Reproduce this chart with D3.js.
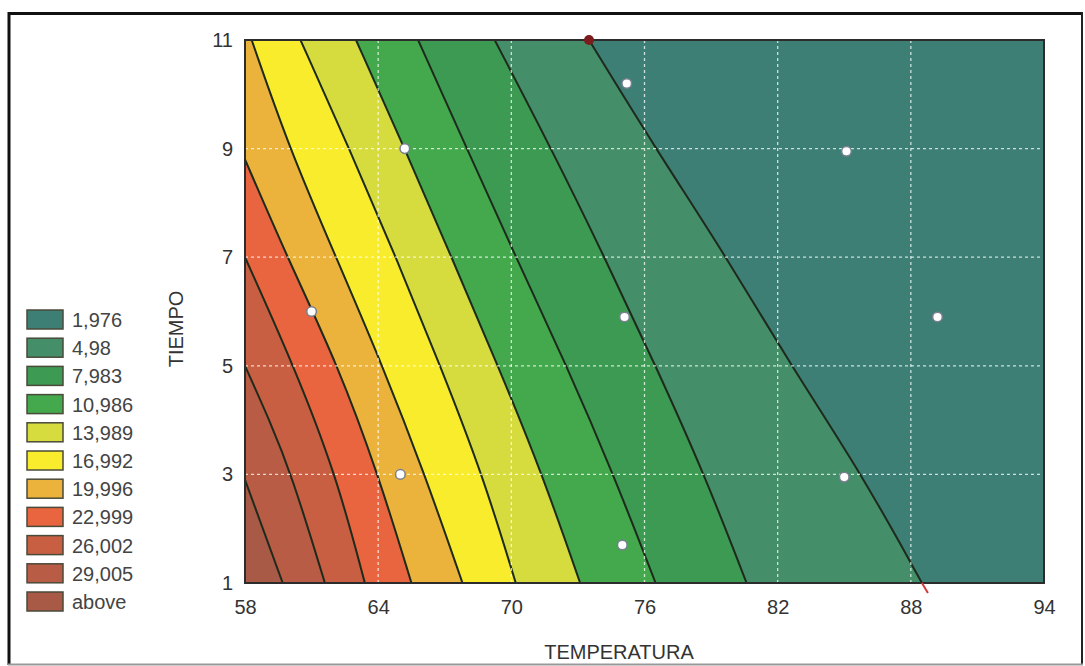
<!DOCTYPE html>
<html><head><meta charset="utf-8">
<script src="https://cdn.jsdelivr.net/npm/d3@7"></script>
<style>
html,body{margin:0;padding:0;background:#fff;}
svg{display:block;font-family:"Liberation Sans",Arial,sans-serif;}
</style></head>
<body>
<svg id="chart" width="1085" height="666"></svg>
<script>
// ---- data ----
const tempTicks = [58, 64, 70, 76, 82, 88, 94];
const timeTicks = [1, 3, 5, 7, 9, 11];
const legendLabels = ["1,976","4,98","7,983","10,986","13,989","16,992","19,996","22,999","26,002","29,005","above"];
const bandColors = ["#3e7f75","#448e69","#3d9a53","#44a84d","#d6dc3e","#f8ec2c","#ecb33c","#e8653f","#c85f42","#b85c45","#a95a46"];

// contour lines (TEMPERATURA, TIEMPO), right to left
const contour1976  = [[73.5,11],[76.5,9],[79.7,7],[82.6,5],[85.8,3],[88.5,1]];
const contour4980  = [[69.25,11],[71.8,9],[74.2,7],[76.5,5],[78.7,3],[80.6,1]];
const contour7983  = [[65.8,11],[68.0,9],[70.2,7],[72.5,5],[74.6,3],[76.5,1]];
const contour10986 = [[63.0,11],[65.2,9],[67.3,7],[69.4,5],[71.4,3],[73.1,1]];
const contour13989 = [[60.5,11],[62.7,9],[64.8,7],[66.8,5],[68.7,3],[70.2,1]];
const contour16992 = [[58.3,11],[60.0,9],[62.1,7],[64.2,5],[66.1,3],[67.8,1]];
const contour19996 = [[58,8.8],[59.9,7],[62.2,5],[64.0,3],[65.5,1]];
const contour22999 = [[58,7.0],[60.2,5],[62.1,3],[63.4,1]];
const contour26002 = [[58,5.0],[59.1,4],[60.1,3],[61.6,1]];
const contour29005 = [[58,2.9],[59.7,1]];
const contours = [contour1976, contour4980, contour7983, contour10986, contour13989,
                  contour16992, contour19996, contour22999, contour26002, contour29005];

// experimental points
const pointTemp = [65.2, 61.0, 65.0, 75.2, 75.1, 75.0, 85.1, 89.2, 85.0];
const pointTime = [9.0, 6.0, 3.0, 10.2, 5.9, 1.7, 8.95, 5.9, 2.95];

// ---- layout ----
const svg = d3.select("#chart");
const x = d3.scaleLinear().domain([58, 94]).range([245, 1044]);
const y = d3.scaleLinear().domain([1, 11]).range([583, 40]);
const [x0, x1] = x.range(), [y0, y1] = [y(11), y(1)];

// outer frame
svg.append("line").attr("x1",8).attr("x2",1082).attr("y1",13.5).attr("y2",13.5).attr("stroke","#111").attr("stroke-width",3);
svg.append("line").attr("x1",9).attr("x2",9).attr("y1",12).attr("y2",665).attr("stroke","#111").attr("stroke-width",3);
svg.append("line").attr("x1",1082).attr("x2",1082).attr("y1",12).attr("y2",665).attr("stroke","#222").attr("stroke-width",2);
svg.append("line").attr("x1",8).attr("x2",1083).attr("y1",664.5).attr("y2",664.5).attr("stroke","#999").attr("stroke-width",2);

svg.append("defs").append("clipPath").attr("id","plotclip")
  .append("rect").attr("x",x0).attr("y",y0).attr("width",x1-x0).attr("height",y1-y0);

const plot = svg.append("g").attr("clip-path","url(#plotclip)");
plot.append("rect").attr("x",x0).attr("y",y0).attr("width",x1-x0).attr("height",y1-y0)
  .attr("fill", bandColors[10]);

const lineGen = d3.line().x(d => x(d[0])).y(d => y(d[1])).curve(d3.curveBasis);

// bands: fill region right of each contour, from leftmost to rightmost
for (let i = contours.length - 1; i >= 0; i--) {
  const c = contours[i];
  const corners = [[94,1],[94,11],[58,11]];
  let p = lineGen(c);
  corners.forEach(k => { p += "L" + x(k[0]) + "," + y(k[1]); });
  p += "Z";
  plot.append("path").attr("d", p).attr("fill", bandColors[i]);
}

// grid
const grid = svg.append("g");
tempTicks.slice(1, -1).forEach(t => {
  grid.append("line").attr("x1",x(t)).attr("x2",x(t)).attr("y1",y0).attr("y2",y1)
    .attr("stroke","rgba(255,255,255,0.75)").attr("stroke-width",1.3).attr("stroke-dasharray","3,3");
});
timeTicks.slice(1, -1).forEach(t => {
  grid.append("line").attr("x1",x0).attr("x2",x1).attr("y1",y(t)).attr("y2",y(t))
    .attr("stroke","rgba(255,255,255,0.75)").attr("stroke-width",1.3).attr("stroke-dasharray","3,3");
});

// contour lines
contours.forEach(c => {
  plot.append("path").attr("d", lineGen(c)).attr("fill","none")
    .attr("stroke","#1d2a1c").attr("stroke-width",2);
});

// plot border
svg.append("rect").attr("x",x0).attr("y",y0).attr("width",x1-x0).attr("height",y1-y0)
  .attr("fill","none").attr("stroke","#2c2c2c").attr("stroke-width",2);

// red markers at contour ends
svg.append("circle").attr("cx",x(contour1976[0][0])).attr("cy",y(contour1976[0][1])).attr("r",5)
  .attr("fill","#7d1c1c");
const lastA = contour1976[contour1976.length-1];
svg.append("line").attr("x1",x(lastA[0])).attr("y1",y(lastA[1])).attr("x2",x(lastA[0])+6).attr("y2",y(lastA[1])+10)
  .attr("stroke","#d03a3a").attr("stroke-width",2);

// points
svg.append("g").selectAll("circle").data(pointTemp.map((t,i)=>[t,pointTime[i]])).join("circle")
  .attr("cx", d => x(d[0])).attr("cy", d => y(d[1])).attr("r", 4.8)
  .attr("fill","#fff").attr("stroke","#7a7f90").attr("stroke-width",1.5);

// axes tick labels
const xAxis = d3.axisBottom(x).tickValues(tempTicks).tickSize(0).tickPadding(0).tickFormat(d3.format("d"));
const gx = svg.append("g").attr("transform","translate(0,600)").call(xAxis);
gx.select(".domain").remove();
gx.selectAll("text").attr("font-size",20).attr("fill","#333").attr("font-family","Liberation Sans, Arial, sans-serif").attr("dy","0.7em");

const yAxis = d3.axisLeft(y).tickValues(timeTicks).tickSize(0).tickPadding(0).tickFormat(d3.format("d"));
const gy = svg.append("g").attr("transform","translate(233,0)").call(yAxis);
gy.select(".domain").remove();
gy.selectAll("text").attr("font-size",20).attr("fill","#333").attr("font-family","Liberation Sans, Arial, sans-serif");

// axis titles
svg.append("text").attr("x",619).attr("y",659).attr("text-anchor","middle")
  .attr("font-size",20).attr("fill","#333").text("TEMPERATURA");
svg.append("text").attr("transform","translate(183,329) rotate(-90)").attr("text-anchor","middle")
  .attr("font-size",20).attr("fill","#333").text("TIEMPO");

// legend
const leg = svg.append("g");
legendLabels.forEach((lab, i) => {
  const ty = 310 + i * 28.2;
  leg.append("rect").attr("x",27).attr("y",ty).attr("width",36).attr("height",19)
    .attr("fill", bandColors[i]).attr("stroke","#4a4a3a").attr("stroke-width",1.5);
  leg.append("text").attr("x",72).attr("y",ty + 17).attr("font-size",20).attr("fill","#444").text(lab);
});
</script>
</body></html>
